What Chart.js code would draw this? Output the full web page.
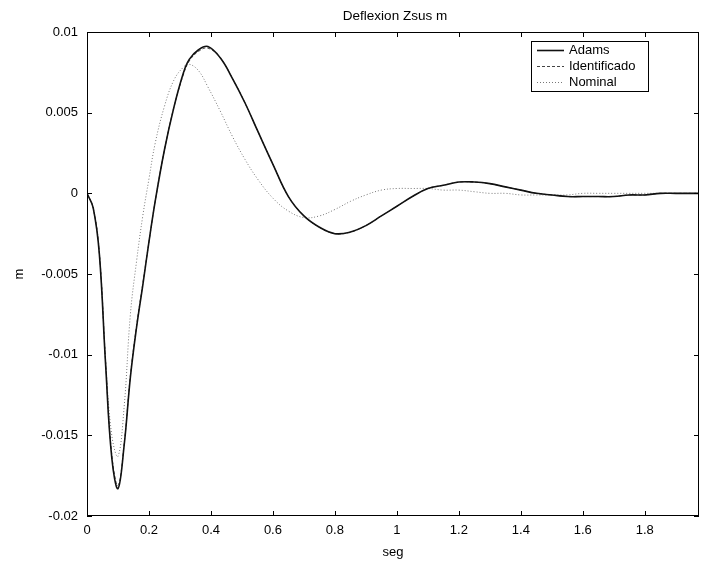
<!DOCTYPE html>
<html>
<head>
<meta charset="utf-8">
<script src="https://cdn.jsdelivr.net/npm/chart.js@4/dist/chart.umd.min.js"></script>
<style>
  html, body { margin: 0; padding: 0; background: #fff; }
  #wrap { width: 701px; height: 566px; position: relative; }
</style>
</head>
<body>
<div id="wrap"><canvas id="myChart" width="701" height="566"></canvas></div>
<script>
// tiempo (seg)
const time = [0, 0.02, 0.04, 0.06, 0.08, 0.1, 0.12, 0.14, 0.16, 0.18, 0.2, 0.22, 0.25, 0.28, 0.31, 0.33, 0.36, 0.39,
  0.43, 0.47, 0.51, 0.55, 0.6, 0.65, 0.7, 0.75, 0.8, 0.85, 0.9, 0.95, 1.0, 1.05, 1.1, 1.15, 1.2, 1.25, 1.3, 1.35,
  1.4, 1.45, 1.5, 1.55, 1.6, 1.65, 1.7, 1.75, 1.8, 1.85, 1.9, 1.975];

const adams = [0, -0.0009, -0.0038, -0.0106, -0.0164, -0.0183, -0.0156, -0.0114, -0.0083, -0.0057, -0.0030, -0.0005,
  0.0027, 0.0053, 0.0074, 0.0083, 0.0089, 0.0091, 0.0084, 0.0071, 0.0056, 0.0039, 0.0018, -0.0002, -0.0014, -0.0021,
  -0.0025, -0.0024, -0.0020, -0.0014, -0.0008, -0.0002, 0.0003, 0.0005, 0.0007, 0.0007, 0.0006, 0.0004, 0.0002,
  0.0000, -0.0001, -0.0002, -0.0002, -0.0002, -0.0002, -0.0001, -0.0001, 0, 0, 0];

const identificado = [0, -0.0009, -0.0037, -0.0104, -0.0162, -0.0181, -0.0155, -0.0113, -0.0082, -0.0056, -0.0030, -0.0005,
  0.0027, 0.0053, 0.0073, 0.0082, 0.0088, 0.0090, 0.0084, 0.0071, 0.0056, 0.0039, 0.0018, -0.0002, -0.0014, -0.0021,
  -0.0025, -0.0024, -0.0020, -0.0014, -0.0008, -0.0002, 0.0003, 0.0005, 0.0007, 0.0007, 0.0006, 0.0004, 0.0002,
  0.0000, -0.0001, -0.0002, -0.0002, -0.0002, -0.0002, -0.0001, -0.0001, 0, 0, 0];

const nominal = [0, -0.0009, -0.0037, -0.0103, -0.0150, -0.0163, -0.0132, -0.0075, -0.0042, -0.0014, 0.0009, 0.0031,
  0.0054, 0.0070, 0.0078, 0.0080, 0.0076, 0.0066, 0.0051, 0.0035, 0.0021, 0.0009, -0.0003, -0.0011, -0.0015, -0.0014,
  -0.0010, -0.0005, -0.0001, 0.0002, 0.0003, 0.0003, 0.0003, 0.0002, 0.0002, 0.0001, 0.0000, 0.0000, -0.0001,
  -0.0001, -0.0001, -0.0001, 0, 0, 0, 0, 0, 0, 0, 0];

const xTicks = [0, 0.2, 0.4, 0.6, 0.8, 1, 1.2, 1.4, 1.6, 1.8];
const yTicks = [-0.02, -0.015, -0.01, -0.005, 0, 0.005, 0.01];

const FONT = 'Arial, "Liberation Sans", Helvetica, sans-serif';

function pts(ys) {
  return time.map((t, i) => ({ x: t, y: ys[i] }));
}

// marco, marcas hacia adentro, título y leyenda (estilo MATLAB)
const matlabFrame = {
  id: 'matlabFrame',
  afterDraw(chart) {
    const { ctx, chartArea: a, scales } = chart;
    ctx.save();
    ctx.strokeStyle = '#000';
    ctx.lineWidth = 1;
    ctx.strokeRect(a.left + 0.5, a.top + 0.5, a.right - a.left - 1, a.bottom - a.top - 1);
    ctx.beginPath();
    xTicks.forEach(v => {
      const px = Math.round(scales.x.getPixelForValue(v)) + 0.5;
      ctx.moveTo(px, a.bottom); ctx.lineTo(px, a.bottom - 5);
      ctx.moveTo(px, a.top); ctx.lineTo(px, a.top + 5);
    });
    yTicks.forEach(v => {
      const py = Math.round(scales.y.getPixelForValue(v)) + 0.5;
      ctx.moveTo(a.left, py); ctx.lineTo(a.left + 5, py);
      ctx.moveTo(a.right, py); ctx.lineTo(a.right - 5, py);
    });
    ctx.stroke();

    // título
    ctx.fillStyle = '#000';
    ctx.font = '13.5px ' + FONT;
    ctx.textAlign = 'center';
    ctx.textBaseline = 'middle';
    ctx.fillText('Deflexion Zsus m', 395, 16);

    // leyenda
    const box = { x: 531, y: 41, w: 117, h: 50 };
    ctx.fillStyle = '#fff';
    ctx.fillRect(box.x, box.y, box.w, box.h);
    ctx.strokeStyle = '#000';
    ctx.strokeRect(box.x + 0.5, box.y + 0.5, box.w, box.h);
    ctx.font = '13px ' + FONT;
    chart.data.datasets.forEach((ds, i) => {
      const yy = box.y + 9 + i * 16;
      ctx.beginPath();
      ctx.strokeStyle = ds.borderColor;
      ctx.lineWidth = ds.borderWidth;
      ctx.setLineDash(ds.borderDash || []);
      ctx.moveTo(box.x + 6, yy + 0.5);
      ctx.lineTo(box.x + 33, yy + 0.5);
      ctx.stroke();
      ctx.setLineDash([]);
      ctx.fillStyle = '#000';
      ctx.textAlign = 'left';
      ctx.fillText(ds.label, box.x + 38, yy);
    });
    ctx.restore();
  }
};

function initChart() {
  const canvas = document.getElementById('myChart');
  if (!canvas || typeof Chart === 'undefined') return;

  const data = {
    datasets: [
      { label: 'Adams', data: pts(adams), borderColor: '#111', borderWidth: 1.6, borderDash: [] },
      { label: 'Identificado', data: pts(identificado), borderColor: '#444', borderWidth: 1, borderDash: [3, 2] },
      { label: 'Nominal', data: pts(nominal), borderColor: '#777', borderWidth: 1, borderDash: [1, 2] }
    ]
  };

  const tickFont = { family: FONT, size: 13 };

  new Chart(canvas, {
    type: 'line',
    data,
    options: {
      responsive: false,
      animation: false,
      events: [],
      layout: { padding: { top: 32, right: 2, left: 0, bottom: 0 } },
      elements: {
        point: { radius: 0 },
        line: { tension: 0.4, fill: false }
      },
      plugins: {
        legend: { display: false },
        tooltip: { enabled: false },
        title: { display: false }
      },
      scales: {
        x: {
          type: 'linear',
          min: 0,
          max: 1.975,
          grid: { display: false, drawTicks: false },
          border: { display: false },
          afterBuildTicks: s => { s.ticks = xTicks.map(v => ({ value: v })); },
          afterFit: s => { s.height = 50; },
          ticks: {
            color: '#000',
            font: tickFont,
            padding: 7,
            maxRotation: 0,
            callback: v => String(+Number(v).toFixed(2))
          },
          title: { display: true, text: 'seg', color: '#000', font: tickFont, padding: { top: 4, bottom: 6 } }
        },
        y: {
          min: -0.02,
          max: 0.01,
          grid: { display: false, drawTicks: false },
          border: { display: false },
          afterBuildTicks: s => { s.ticks = yTicks.map(v => ({ value: v })); },
          afterFit: s => { s.width = 87; },
          ticks: {
            color: '#000',
            font: tickFont,
            padding: 9,
            callback: v => { const n = +Number(v).toFixed(4); return n === 0 ? '0' : String(n); }
          },
          title: { display: true, text: 'm', color: '#000', font: tickFont, padding: { top: 12, bottom: 0 } }
        }
      }
    },
    plugins: [matlabFrame]
  });
}

if (document.readyState === 'loading') {
  document.addEventListener('DOMContentLoaded', initChart, { once: true });
} else {
  initChart();
}
</script>
</body>
</html>
